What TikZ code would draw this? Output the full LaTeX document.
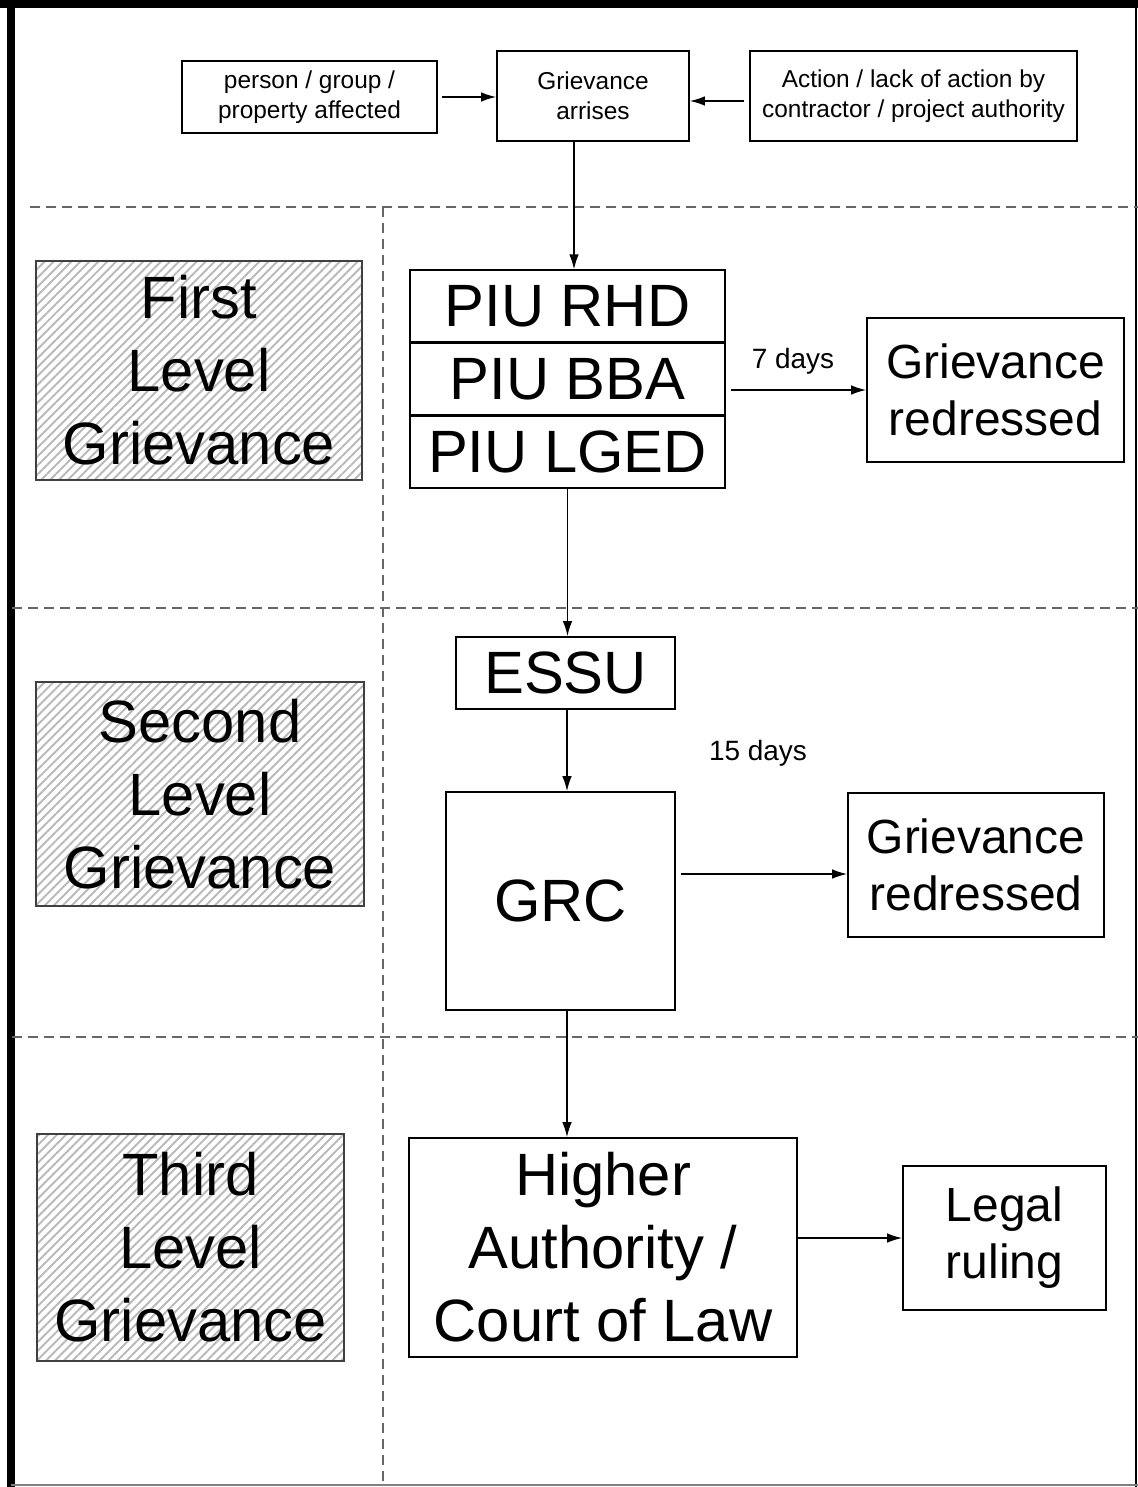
\documentclass[tikz,border=0pt]{standalone}
\usepackage{fontspec}
\setmainfont{Liberation Sans}
\usepackage{tikz}
\usetikzlibrary{shapes,arrows.meta,positioning,patterns.meta}
\newcommand{\hugetxt}{\fontsize{34}{41.5}\selectfont}
\newcommand{\midtxt}{\fontsize{27.3}{32.4}\selectfont}
\newcommand{\smalltxt}{\fontsize{13.9}{17}\selectfont}
\newcommand{\daytxt}{\fontsize{15.9}{19}\selectfont}

\begin{document}
\begin{tikzpicture}[x=0.02cm,y=-0.02cm,>={Latex[length=0.3cm,width=0.19cm]}]
    \tikzstyle{flowbox}=[draw,line width=0.9pt,align=center,inner sep=0pt]
    \tikzstyle{lvl}=[flowbox,draw=black!75,pattern={Lines[angle=45,distance=3.6pt,line width=1.1pt]},pattern color=gray!55,font=\hugetxt]
    \tikzstyle{sep}=[gray!80!black,line width=1pt,dash pattern=on 0.2cm off 0.12cm]
    \tikzstyle{link}=[->,line width=0.9pt]

    \useasboundingbox (0,0) rectangle (1138,1487);

    % frame
    \draw[line width=0.18cm] (11,0) -- (11,1487);
    \draw[line width=0.16cm] (0,4) -- (1138,4);
    \draw[line width=1.2pt] (1136,0) -- (1136,1487);
    \draw[gray,line width=1.2pt] (11,1485) -- (1138,1485);

    % level separators
    \draw[sep] (30,207) -- (1138,207);
    \draw[sep] (12,608) -- (1138,608);
    \draw[sep] (12,1037) -- (1138,1037);
    \draw[sep] (383,207) -- (383,1487);

    % top row
    \node(person) [flowbox,font=\smalltxt,minimum width=5.10cm,minimum height=1.44cm] at (309.5,97) {person / group /\\property affected};
    \node(arr) [flowbox,font=\smalltxt,minimum width=3.84cm,minimum height=1.80cm] at (593,96) {Grievance\\arrises};
    \node(act) [flowbox,font=\smalltxt,minimum width=6.54cm,minimum height=1.80cm] at (913.5,96) {Action / lack of action by\\contractor / project authority};

    % levels
    \node(lvlone) [lvl,minimum width=6.52cm,minimum height=4.38cm] at (199,370.5) {First\\Level\\Grievance};
    \node(lvltwo) [lvl,minimum width=6.56cm,minimum height=4.48cm] at (200,794) {Second\\Level\\Grievance};
    \node(lvlthree) [lvl,minimum width=6.14cm,minimum height=4.54cm] at (190.5,1247.5) {Third\\Level\\Grievance};

    % first level
    \node(rhd) [flowbox,font=\hugetxt,minimum width=6.30cm,minimum height=1.43cm] at (567.5,306) {PIU RHD};
    \node(bba) [flowbox,font=\hugetxt,minimum width=6.30cm,minimum height=1.43cm,below=0pt of rhd] {PIU BBA};
    \node(lged) [flowbox,font=\hugetxt,minimum width=6.30cm,minimum height=1.43cm,below=0pt of bba] {PIU LGED};
    \node(redone) [flowbox,font=\midtxt,minimum width=5.14cm,minimum height=2.88cm] at (995.5,390) {Grievance\\redressed};
    \node(dayone) [font=\daytxt] at (793,361) {7 days};

    % second level
    \node(essu) [flowbox,font=\hugetxt,minimum width=4.38cm,minimum height=1.44cm] at (565.5,673) {ESSU};
    \node(grc) [flowbox,font=\hugetxt,minimum width=4.58cm,minimum height=4.36cm] at (560.5,901) {GRC};
    \node(redtwo) [flowbox,font=\midtxt,minimum width=5.12cm,minimum height=2.88cm] at (976,865) {Grievance\\redressed};
    \node(daytwo) [font=\daytxt] at (758,753) {15 days};

    % third level
    \node(higher) [flowbox,font=\hugetxt,minimum width=7.76cm,minimum height=4.38cm] at (603,1247.5) {Higher\\Authority /\\Court of Law};
    \node(legal) [flowbox,font=\midtxt,minimum width=4.06cm,minimum height=2.88cm] at (1004.5,1238) {Legal\\ruling};

    \draw [link] ([xshift=0.08cm]person.east) -- (person.east -| arr.west);
    \draw [link] ([yshift=-0.1cm,xshift=-0.1cm]act.west) -- ([yshift=-0.1cm]act.west -| arr.east);
    \draw [link] ([xshift=-0.38cm]arr.south) -- ([xshift=-0.38cm]arr.south |- rhd.north);
    \draw [link] ([xshift=0.1cm]bba.east |- redone) -- (redone.west);
    \draw [link] (lged.south) -- (lged.south |- essu.north);
    \draw [link] ([xshift=0.03cm]essu.south) -- ([xshift=0.03cm]essu.south |- grc.north);
    \draw [link] ([yshift=-0.18cm,xshift=0.1cm]redtwo.west -| grc.east) -- ([yshift=-0.18cm]redtwo.west);
    \draw [link] ([xshift=0.13cm]grc.south) -- ([xshift=0.13cm]grc.south |- higher.north);
    \draw [link] (legal.west -| higher.east) -- (legal.west);

\end{tikzpicture}
\end{document}
